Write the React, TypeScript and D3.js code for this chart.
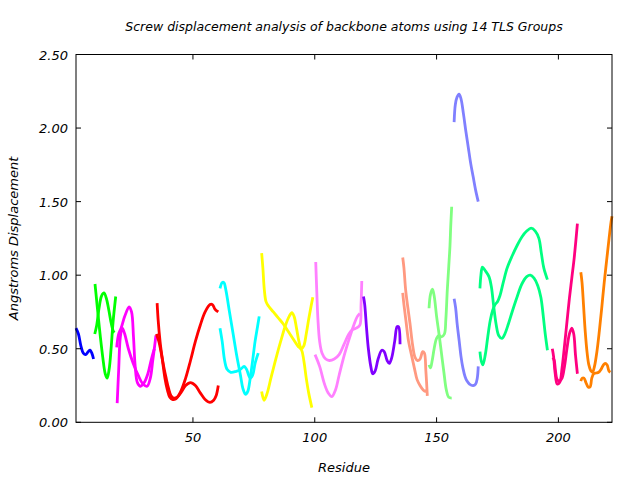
import React from "react";
import * as d3 from "d3";

type P = [number, number];

const title = "Screw displacement analysis of backbone atoms using 14 TLS Groups";
const xLabel = "Residue";
const yLabel = "Angstroms Displacement";
const xTicks = [50, 100, 150, 200];
const yTicks = [0, 0.5, 1.0, 1.5, 2.0, 2.5];
const xDomain: P = [2, 222];
const yDomain: P = [0, 2.5];

const groupColors = [
  "#0000ff", "#00ff00", "#ff00ff", "#ff0000", "#00ffff", "#ffff00", "#ff80ff",
  "#8000ff", "#ff9980", "#80ff80", "#8080ff", "#00ff80", "#ff0080", "#ff8000",
];

const g1a: P[] = [[2,0.64],[3,0.6],[4,0.52],[5,0.47],[6,0.46],[7,0.48],[7.8,0.49],[8.5,0.47],[9.2,0.43]];

const g2a: P[] = [[9.8,0.94],[10.4,0.84],[11,0.74],[12,0.58],[13,0.44],[14,0.33],[14.8,0.3],[15.6,0.36],[16.4,0.5],[17.2,0.68],[18.3,0.855]];
const g2b: P[] = [[9.7,0.6],[10.5,0.66],[11.5,0.78],[12.5,0.86],[13.5,0.88],[14.5,0.84],[15.5,0.76],[16.5,0.67],[17.3,0.62],[17.8,0.61]];

const g3a: P[] = [[18.9,0.13],[19.5,0.35],[20.2,0.58],[21,0.64],[22,0.6],[23.5,0.5],[25.5,0.4],[27.5,0.32],[29.5,0.26],[31.2,0.245],[32.5,0.3],[33.5,0.42],[34.3,0.52],[34.8,0.59]];
const g3b: P[] = [[18.7,0.51],[19.5,0.6],[20.5,0.64],[22,0.72],[23.8,0.785],[24.8,0.75],[25.6,0.58],[26.3,0.38],[27.2,0.27],[28.5,0.245],[30,0.27],[31.5,0.33],[32.8,0.42],[33.8,0.48],[34.2,0.5]];

const g4a: P[] = [[35.3,0.81],[35.7,0.7],[36.5,0.55],[37.5,0.42],[38.5,0.3],[39.5,0.22],[40.5,0.17],[41.5,0.155],[43,0.16],[45,0.21],[47,0.3],[49,0.42],[51,0.55],[53,0.66],[55,0.75],[57,0.8],[58,0.8],[59,0.77],[60.4,0.75]];
const g4b: P[] = [[35,0.6],[36,0.55],[37,0.47],[38,0.38],[39,0.3],[40,0.23],[41,0.18],[42,0.165],[43.5,0.17],[45,0.2],[47,0.25],[49,0.27],[51,0.25],[53,0.2],[55,0.155],[57,0.135],[58.5,0.15],[59.5,0.18],[60.4,0.25]];

const g5a: P[] = [[61.1,0.91],[62,0.95],[62.7,0.95],[63.5,0.9],[65,0.75],[66.5,0.6],[68,0.45],[69.5,0.32],[70.5,0.23],[71.6,0.19],[72.5,0.21],[73.5,0.3],[74.5,0.42],[75.5,0.55],[76.5,0.65],[77.2,0.72]];
const g5b: P[] = [[61.1,0.64],[62,0.55],[63,0.42],[64,0.36],[65.5,0.34],[67.5,0.345],[69.5,0.36],[71,0.38],[72,0.36],[73.5,0.3],[74.5,0.32],[75.5,0.4],[76.8,0.47]];

const g6a: P[] = [[78.2,1.15],[78.7,1.05],[79.3,0.9],[80,0.82],[81,0.79],[83,0.75],[85,0.71],[87,0.67],[89,0.62],[91,0.57],[93,0.52],[94.6,0.49],[95.5,0.42],[96.5,0.3],[97.5,0.2],[98.8,0.1]];
const g6b: P[] = [[78.2,0.21],[79.2,0.15],[80.5,0.2],[82,0.3],[84,0.43],[86,0.55],[88,0.66],[89.5,0.72],[90.6,0.745],[91.5,0.72],[92.5,0.64],[93.5,0.55],[94.5,0.5],[95.5,0.52],[96.5,0.6],[97.5,0.7],[98.5,0.79],[99.2,0.85]];

const g7a: P[] = [[100.4,1.09],[100.8,0.9],[101.3,0.7],[102,0.55],[103,0.47],[104.5,0.43],[106,0.42],[108,0.43],[110,0.46],[112,0.53],[114,0.6],[115.5,0.63],[117,0.64],[118.5,0.66],[119,0.8],[119.3,0.96]];
const g7b: P[] = [[100.1,0.46],[102,0.38],[104,0.26],[105.5,0.2],[107,0.175],[108.5,0.22],[110,0.32],[112,0.45],[114,0.56],[116,0.66],[117.5,0.72],[118.5,0.74]];

const g8a: P[] = [[120,0.855],[120.5,0.8],[121.3,0.63],[122,0.5],[123,0.38],[123.8,0.33],[124.8,0.35],[126,0.43],[127.5,0.49],[128.5,0.48],[129.7,0.42],[130.6,0.4],[131.6,0.44],[132.8,0.55],[133.8,0.65],[134.4,0.65],[135,0.53]];

const g9a: P[] = [[136.1,1.12],[136.6,1.05],[137.3,0.9],[138.2,0.78],[139.1,0.67],[140.2,0.52],[141.2,0.44],[142.2,0.42],[143.2,0.43],[144.3,0.48],[145,0.47],[145.6,0.35],[146.2,0.18]];
const g9b: P[] = [[136.1,0.88],[136.6,0.8],[137.5,0.68],[138.5,0.55],[139.8,0.45],[141,0.36],[142,0.29],[143.2,0.25],[144.5,0.22],[145.5,0.21],[146,0.22]];

const g10a: P[] = [[146.9,0.775],[147.5,0.87],[148.3,0.905],[149,0.86],[150,0.72],[151,0.6],[152,0.47],[153,0.34],[154,0.22],[155,0.17],[156.2,0.165]];
const g10b: P[] = [[146.9,0.39],[147.5,0.37],[148.2,0.42],[149,0.5],[150,0.57],[151,0.59],[152,0.58],[153.2,0.6],[153.8,0.7],[154.4,0.9],[155,1.06],[155.5,1.2],[155.8,1.33],[156.2,1.465]];

const g11a: P[] = [[157.2,2.04],[157.7,2.16],[158.4,2.21],[159.2,2.23],[160,2.2],[161,2.1],[162,1.98],[163,1.87],[164,1.76],[165,1.67],[166,1.58],[167.1,1.5]];
const g11b: P[] = [[157.2,0.84],[157.8,0.78],[158.5,0.66],[159.3,0.55],[160,0.45],[160.8,0.37],[161.7,0.31],[162.5,0.28],[163.5,0.26],[165,0.25],[166,0.26],[166.7,0.3],[167.1,0.38]];

const g12a: P[] = [[167.8,0.91],[168.2,1.0],[168.8,1.055],[170,1.03],[171.5,0.99],[172.5,0.92],[173.5,0.78],[174.5,0.66],[175.5,0.59],[176.8,0.57],[178,0.6],[179.5,0.67],[181,0.75],[183,0.85],[185,0.94],[187,0.99],[188.5,1.0],[190,0.98],[191.5,0.93],[192.8,0.85],[193.8,0.72],[194.6,0.6],[195.5,0.49]];
const g12b: P[] = [[167.8,0.48],[168.3,0.42],[169,0.39],[170,0.46],[171,0.58],[172,0.69],[173,0.76],[174,0.8],[175,0.82],[176,0.86],[177.5,0.96],[179,1.05],[181,1.13],[183,1.2],[185,1.26],[187,1.3],[188.8,1.32],[190.5,1.3],[192,1.25],[193,1.15],[194,1.05],[195.5,0.97]];

const g13a: P[] = [[197.5,0.5],[198,0.45],[198.7,0.33],[199.5,0.26],[200.5,0.27],[201.5,0.37],[202.5,0.52],[203.5,0.68],[204.5,0.84],[205.5,0.98],[206.5,1.12],[207.2,1.24],[207.8,1.35]];
const g13b: P[] = [[197.7,0.44],[198.3,0.42],[198.8,0.35],[199.5,0.29],[200.5,0.28],[201.5,0.3],[202.5,0.38],[203.5,0.5],[204.5,0.6],[205.5,0.64],[206.3,0.6],[207,0.46],[207.8,0.33]];

const g14a: P[] = [[209.2,1.02],[209.7,0.95],[210.3,0.8],[211,0.62],[211.8,0.47],[212.5,0.39],[213.3,0.35],[214,0.34],[214.8,0.38],[215.8,0.48],[216.8,0.62],[217.8,0.78],[218.8,0.95],[219.8,1.1],[220.8,1.25],[221.6,1.36],[222,1.4]];
const g14b: P[] = [[209.2,0.28],[209.8,0.3],[210.5,0.3],[211.3,0.27],[212.2,0.24],[213,0.24],[213.7,0.3],[214.5,0.33],[215.5,0.335],[216.5,0.34],[217.5,0.36],[218.5,0.39],[219.2,0.4],[220,0.39],[220.7,0.35],[221.3,0.34]];

const groups: P[][][] = [
  [g1a], [g2a, g2b], [g3a, g3b], [g4a, g4b], [g5a, g5b], [g6a, g6b], [g7a, g7b],
  [g8a], [g9a, g9b], [g10a, g10b], [g11a, g11b], [g12a, g12b], [g13a, g13b], [g14a, g14b],
];

const W = 640, H = 480;
const M = { left: 76, right: 612, top: 54.5, bottom: 422.3 };
const FONT = "'DejaVu Sans', sans-serif";

export default function App() {
  const x = d3.scaleLinear().domain(xDomain).range([M.left, M.right]);
  const y = d3.scaleLinear().domain(yDomain).range([M.bottom, M.top]);
  const line = d3.line<P>().x(d => x(d[0])).y(d => y(d[1])).curve(d3.curveCatmullRom.alpha(0.5));
  const tl = 5;
  return (
    <svg width={W} height={H} style={{ position: "absolute", left: 0, top: 0, background: "#fff" }}>
      <rect x={0} y={0} width={W} height={H} fill="#fff" />
      <text x={(M.left + M.right) / 2} y={31} textAnchor="middle" fontFamily={FONT} fontStyle="italic" fontSize={12.5}>{title}</text>
      <g>
        {groups.map((g, gi) => g.map((s, si) => (
          <path key={gi + "-" + si} d={line(s) || ""} fill="none" stroke={groupColors[gi]} strokeWidth={2.8} strokeLinejoin="round" strokeLinecap="butt" />
        )))}
      </g>
      <rect x={M.left} y={M.top} width={M.right - M.left} height={M.bottom - M.top} fill="none" stroke="#000" strokeWidth={1} />
      {xTicks.map(t => (
        <g key={"x" + t}>
          <line x1={x(t)} x2={x(t)} y1={M.bottom} y2={M.bottom - tl} stroke="#000" />
          <line x1={x(t)} x2={x(t)} y1={M.top} y2={M.top + tl} stroke="#000" />
          <text x={x(t)} y={442} textAnchor="middle" fontFamily={FONT} fontStyle="italic" fontSize={13}>{t}</text>
        </g>
      ))}
      {yTicks.map(t => (
        <g key={"y" + t}>
          <line x1={M.left} x2={M.left + tl} y1={y(t)} y2={y(t)} stroke="#000" />
          <line x1={M.right} x2={M.right - tl} y1={y(t)} y2={y(t)} stroke="#000" />
          <text x={68} y={y(t) + 5} textAnchor="end" fontFamily={FONT} fontStyle="italic" fontSize={13}>{t.toFixed(2)}</text>
        </g>
      ))}
      <text x={(M.left + M.right) / 2} y={472} textAnchor="middle" fontFamily={FONT} fontStyle="italic" fontSize={13}>{xLabel}</text>
      <text transform={`translate(18,${(M.top + M.bottom) / 2}) rotate(-90)`} textAnchor="middle" fontFamily={FONT} fontStyle="italic" fontSize={13}>{yLabel}</text>
    </svg>
  );
}
